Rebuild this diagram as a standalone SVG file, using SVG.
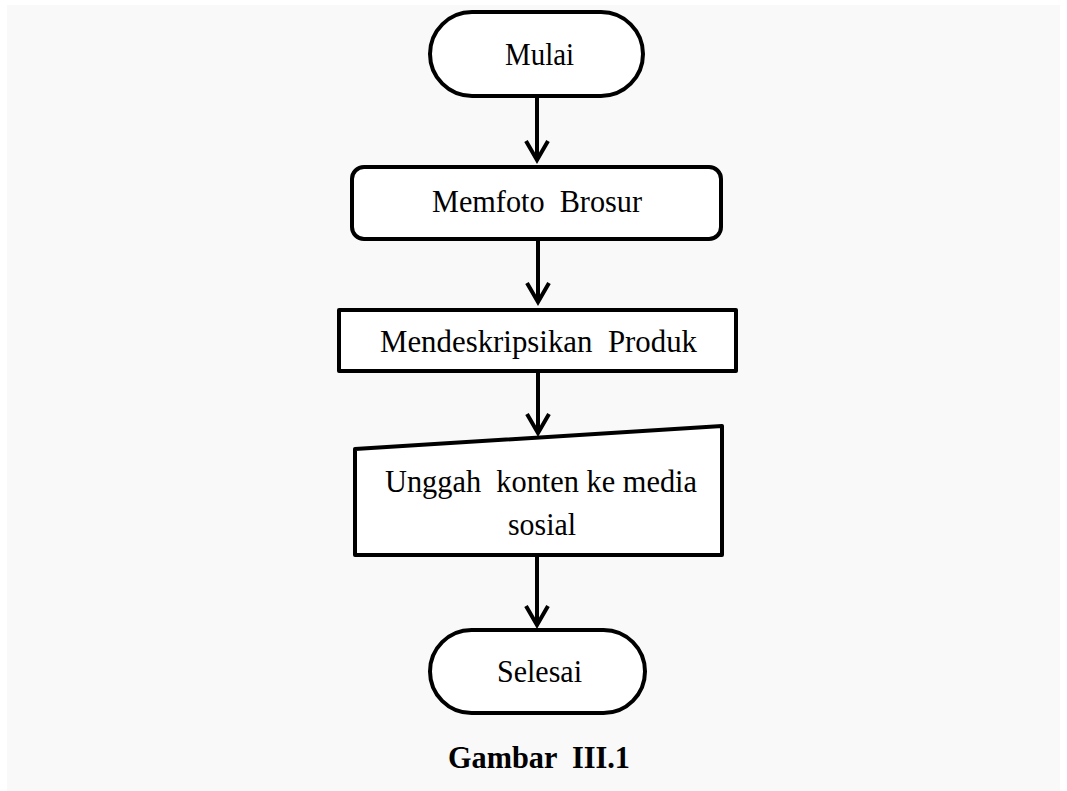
<svg xmlns="http://www.w3.org/2000/svg" width="1067" height="791" viewBox="0 0 1067 791">
<style>
.shape{fill:#ffffff;stroke:#000000;stroke-width:4;stroke-linejoin:round}
.lbl{font-family:"Liberation Serif","Times New Roman",serif;font-size:32px;fill:#000000;text-anchor:middle;white-space:pre}
.cap{font-family:"Liberation Serif","Times New Roman",serif;font-size:31px;font-weight:bold;fill:#000000;text-anchor:middle;white-space:pre}
.conn{stroke:#000000;stroke-width:4;fill:none;marker-end:url(#chev)}
</style>
<defs>
<marker id="chev" markerUnits="userSpaceOnUse" markerWidth="40" markerHeight="40" refX="0" refY="0" orient="auto" viewBox="-30 -20 40 40" overflow="visible">
<path d="M -19 -11 L 0 0 L -19 11" fill="none" stroke="#000000" stroke-width="4" stroke-linejoin="miter"/>
</marker>
</defs>
<rect x="0" y="0" width="1067" height="791" fill="#ffffff"/>
<rect x="7" y="5" width="1053" height="786" fill="#f9f9f9"/>
<g id="connectors">
<line class="conn" x1="537" y1="97" x2="537" y2="160"/>
<line class="conn" x1="538" y1="240" x2="538" y2="302"/>
<line class="conn" x1="538" y1="372" x2="538" y2="433"/>
<line class="conn" x1="537" y1="556" x2="537" y2="625"/>
</g>
<g id="start">
<rect class="shape" x="430" y="12" width="213" height="84" rx="42" ry="42"/>
<text class="lbl" x="539.5" y="65" textLength="69" lengthAdjust="spacingAndGlyphs">Mulai</text>
</g>
<g id="memfoto">
<rect class="shape" x="352" y="167" width="369" height="72" rx="12" ry="12"/>
<text class="lbl" x="537" y="212" textLength="210" lengthAdjust="spacingAndGlyphs">Memfoto  Brosur</text>
</g>
<g id="deskripsi">
<rect class="shape" x="339" y="310" width="397" height="61"/>
<text class="lbl" x="538.5" y="352" textLength="317" lengthAdjust="spacingAndGlyphs">Mendeskripsikan  Produk</text>
</g>
<g id="unggah">
<polygon class="shape" points="355,449 722,426 722,555 355,555"/>
<text class="lbl" x="541" y="492" textLength="312" lengthAdjust="spacingAndGlyphs">Unggah  konten ke media</text>
<text class="lbl" x="542" y="535" textLength="68" lengthAdjust="spacingAndGlyphs">sosial</text>
</g>
<g id="end">
<rect class="shape" x="430" y="630" width="215" height="83" rx="41.5" ry="41.5"/>
<text class="lbl" x="539.5" y="682" textLength="85" lengthAdjust="spacingAndGlyphs">Selesai</text>
</g>
<text class="cap" x="539" y="768" textLength="182" lengthAdjust="spacingAndGlyphs">Gambar  III.1</text>
</svg>
